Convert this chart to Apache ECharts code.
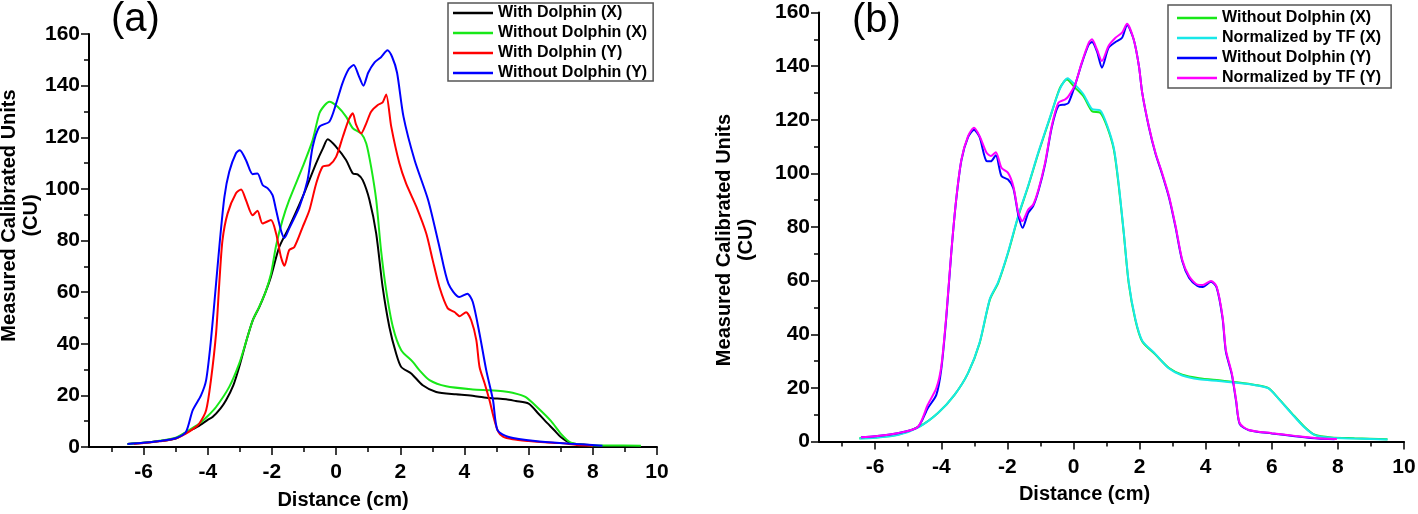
<!DOCTYPE html>
<html>
<head>
<meta charset="utf-8">
<script src="https://cdn.jsdelivr.net/npm/echarts@6/dist/echarts.min.js"></script>
<style>
  html, body { margin: 0; padding: 0; background: #fff; }
  #main { width: 1418px; height: 514px; }
</style>
</head>
<body>
<div id="main"></div>
<script>
// panel (a) profiles: [distance cm, CU]
const aWithX = [[-6.5,1.2],[-6,1.6],[-5.5,2.3],[-5,3.3],[-4.68,5.6],[-4.3,8],[-4,10.5],[-3.85,11.6],[-3.6,15],[-3.43,18.1],[-3.2,24],[-3.02,31],[-2.8,41],[-2.6,49],[-2.39,54.3],[-2.2,60],[-2.03,66],[-1.77,77.5],[-1.46,85.3],[-1.04,97],[-0.62,110],[-0.4,116],[-0.26,119.2],[0,116.3],[0.31,111.2],[0.52,106],[0.67,105.6],[0.83,103.4],[1.04,95.7],[1.25,82.7],[1.45,62],[1.66,46.5],[1.87,36.2],[2.03,31],[2.34,28.5],[2.7,23.9],[3.12,21.3],[3.74,20.4],[4.3,19.8],[4.78,19],[5.3,18.5],[5.6,17.8],[6,16.8],[6.3,13],[6.5,10.3],[6.8,6.5],[7,3.9],[7.3,1.6],[7.7,1],[7.9,0.8]]
const aWithoutX = [[-6.5,1.2],[-6,1.6],[-5.5,2.4],[-5,3.6],[-4.68,5.8],[-4.26,9.1],[-4,12],[-3.74,15.5],[-3.33,23.3],[-3.02,32.3],[-2.8,41],[-2.6,49],[-2.39,54.5],[-2.2,60],[-2.03,67],[-1.87,78],[-1.67,87.9],[-1.46,95.7],[-1.04,108.6],[-0.73,118.9],[-0.52,129.3],[-0.35,132.5],[-0.21,133.8],[0.05,131.8],[0.31,128],[0.52,123.5],[0.78,121.5],[0.94,117.6],[1.09,108.6],[1.25,95.7],[1.4,76.3],[1.56,60.8],[1.77,46.5],[2.03,37.5],[2.39,33],[2.6,29.7],[2.91,25.9],[3.43,23.5],[4.26,22.3],[4.78,22],[5.2,21.6],[5.5,21],[5.9,19.4],[6.3,15],[6.7,10],[7,5.2],[7.3,1.8],[7.8,0.8],[8.5,0.6],[9.5,0.5]]
const aWithY = [[-6.3,1.2],[-6,1.5],[-5.5,2.2],[-5,3.3],[-4.68,5.2],[-4.4,7.5],[-4.26,9.1],[-4.05,14.2],[-3.9,25.9],[-3.74,44],[-3.64,63.4],[-3.54,80.1],[-3.38,90.5],[-3.12,98.3],[-2.96,99.8],[-2.81,95.7],[-2.6,89.8],[-2.45,91.5],[-2.29,86.6],[-2.03,87.9],[-1.87,82.7],[-1.72,73.7],[-1.61,70.2],[-1.46,76.3],[-1.3,77.5],[-1.04,85.3],[-0.83,91.8],[-0.62,102.1],[-0.42,108.6],[-0.21,109.2],[0,112.4],[0.21,120.2],[0.4,127],[0.52,129.3],[0.62,125],[0.78,121.5],[0.94,125.4],[1.09,129.9],[1.3,132.5],[1.45,133.5],[1.56,136.6],[1.72,124],[1.97,110],[2.18,102.1],[2.5,93.1],[2.81,82.7],[3.01,72.4],[3.22,62],[3.48,53.7],[3.69,52.3],[3.85,50.7],[4.05,52.2],[4.21,49.1],[4.37,41.4],[4.47,31],[4.63,24.6],[4.78,18.1],[4.92,11],[5.05,6],[5.2,4],[5.5,3],[6,2.3],[6.5,1.8],[7,1.5],[7.5,0.8],[8,0.5]]
const aWithoutY = [[-6.5,1.2],[-6,1.6],[-5.5,2.3],[-5,3.4],[-4.68,5.8],[-4.47,14.2],[-4.21,20],[-4.05,25.9],[-3.9,41.4],[-3.74,63.4],[-3.62,80.1],[-3.48,96.9],[-3.33,106.6],[-3.12,113.8],[-3,115],[-2.81,111.2],[-2.6,105.7],[-2.45,106],[-2.29,101.5],[-2.13,100.2],[-1.98,97.6],[-1.87,91.8],[-1.72,84],[-1.61,81],[-1.46,84.7],[-1.14,93.1],[-0.89,103.4],[-0.73,116.3],[-0.52,124.1],[-0.21,126],[0,133],[0.2,141],[0.4,146.5],[0.55,148],[0.7,144],[0.85,140],[1,145],[1.2,149],[1.4,151],[1.6,153.7],[1.75,151],[1.9,145],[2.1,128],[2.45,111],[2.87,95.6],[3.22,77.5],[3.5,63.3],[3.84,58.1],[4.09,59.4],[4.26,56.2],[4.47,43.9],[4.68,29.7],[4.89,18.1],[5.03,6.5],[5.38,3.9],[6.2,2.3],[7.3,1.3],[8.3,0.5]]

// panel (b) profiles
const bWithoutX = [[-6.48,1.2],[-6,1.5],[-5.32,2.5],[-4.66,5.6],[-4.1,10.6],[-3.6,17.4],[-3.19,25.5],[-2.84,36.7],[-2.53,52.9],[-2.28,59.1],[-1.98,70.3],[-1.67,84],[-1.37,95.2],[-1.06,107.7],[-0.71,120.7],[-0.41,131.9],[-0.2,135],[0.05,131.9],[0.3,128.8],[0.56,123.2],[0.81,122.6],[1.01,117.6],[1.22,108.9],[1.37,95.2],[1.52,77.8],[1.67,59.1],[1.87,45.4],[2.08,37.3],[2.48,32.4],[2.89,27.4],[3.29,24.9],[3.8,23.6],[4.4,22.8],[5,22],[5.5,21.1],[5.9,19.9],[6.2,16.1],[6.6,10.6],[7,5.3],[7.3,2.5],[7.8,1.5],[8.5,1.2],[9.5,0.8]]
const bNormX = [[-6.48,1.1],[-6,1.4],[-5.32,2.4],[-4.66,5.5],[-4.1,10.6],[-3.6,17.4],[-3.19,25.5],[-2.84,36.9],[-2.53,53.2],[-2.28,59.4],[-1.98,70.6],[-1.67,84.3],[-1.37,95.5],[-1.06,108],[-0.71,121],[-0.41,131.5],[-0.18,135.5],[0.05,133],[0.3,129.5],[0.56,124],[0.81,123.5],[1.01,118.2],[1.22,109.5],[1.37,95.8],[1.52,78.2],[1.67,59.5],[1.87,45.8],[2.08,37.6],[2.48,32.6],[2.89,27.2],[3.29,24.6],[3.8,23.2],[4.4,22.6],[5,21.8],[5.5,21],[5.9,19.8],[6.2,16],[6.6,10.4],[7,5.1],[7.3,2.4],[7.8,1.4],[8.5,1.1],[9.5,0.7]]
const bWithoutY = [[-6.43,1.6],[-6,2],[-5.32,3.1],[-4.71,5.4],[-4.41,12.4],[-4.15,17.4],[-4,27],[-3.85,46],[-3.7,70],[-3.55,90],[-3.39,105],[-3.19,113.5],[-3.01,116.3],[-2.84,113.5],[-2.63,104.6],[-2.5,104.5],[-2.35,106.8],[-2.18,99],[-1.98,97.7],[-1.82,94.5],[-1.67,84.5],[-1.54,79.7],[-1.37,85.3],[-1.22,87.8],[-1.06,93.5],[-0.86,103.4],[-0.66,117],[-0.46,125.1],[-0.25,125.7],[-0.15,126.3],[0.05,133],[0.25,141],[0.46,148],[0.56,149],[0.71,145.5],[0.86,139.4],[1.06,146.8],[1.27,149],[1.47,150.6],[1.62,155.3],[1.82,150],[1.98,140],[2.08,130],[2.28,117.3],[2.48,107.4],[2.68,99.8],[2.89,91],[3.09,79.8],[3.29,67.3],[3.5,61],[3.75,58],[3.91,57.6],[4.16,59.6],[4.33,57.5],[4.51,46],[4.61,33.5],[4.79,25],[4.92,15],[5.03,6.5],[5.31,4.2],[6,3],[6.7,2],[7.4,1.1],[7.9,0.8]]
const bNormY = [[-6.43,1.6],[-6,2],[-5.32,3.1],[-4.71,5.4],[-4.41,13.7],[-4.15,19.9],[-4,28],[-3.85,46.7],[-3.7,70.3],[-3.55,90.2],[-3.39,105.2],[-3.19,113.9],[-3.01,117],[-2.84,113.9],[-2.63,107.7],[-2.5,106.5],[-2.35,107.9],[-2.18,102.1],[-1.98,100.2],[-1.82,95.2],[-1.67,85.3],[-1.55,82.2],[-1.37,86.5],[-1.22,88.4],[-1.06,94],[-0.86,103.9],[-0.66,117.6],[-0.46,126.3],[-0.25,127.6],[-0.15,128.8],[0.05,133.2],[0.25,141.3],[0.46,148.7],[0.56,150],[0.71,146.2],[0.86,141.9],[1.06,147.5],[1.27,150.6],[1.47,152.5],[1.62,155.8],[1.82,150],[1.98,140],[2.08,130],[2.28,117.6],[2.48,107.7],[2.68,100.2],[2.89,91.5],[3.09,80.3],[3.29,67.8],[3.5,61.6],[3.75,58.5],[3.91,58.4],[4.16,59.9],[4.33,57.8],[4.51,46.6],[4.61,34.2],[4.79,25.5],[4.92,15.5],[5.03,6.8],[5.31,4.3],[6,3.1],[6.7,2.1],[7.4,1.2],[7.97,0.9]]

// tick positions
const xMajorTicks = [-6, -4, -2, 0, 2, 4, 6, 8, 10]
const xMinorTicks = [-7, -5, -3, -1, 1, 3, 5, 7, 9]

const FONT = 'Arial, "Liberation Sans", sans-serif'

const chart = echarts.init(document.getElementById('main'), null, {renderer: 'canvas'})

// 主刻度x轴
function xMain(gridIndex, padRight) {
  return {
    type: 'value', gridIndex: gridIndex, position: 'bottom', min: -7.7, max: 10,
    name: 'Distance (cm)', nameLocation: 'middle', nameGap: 43, nameMoveOverlap: false,
    nameTextStyle: {fontFamily: FONT, fontSize: 20, fontWeight: 'bold', color: '#000', padding: [0, padRight, 0, 0]},
    axisLine: {show: true, onZero: false, lineStyle: {color: '#000', width: 2}},
    axisTick: {show: true, length: 8, customValues: xMajorTicks, lineStyle: {color: '#000', width: 1.5}},
    axisLabel: {show: true, margin: 15, customValues: xMajorTicks, fontFamily: FONT, fontSize: 21, fontWeight: 'bold', color: '#000'},
    splitLine: {show: false}
  }
}
// 次刻度x轴
function xMinor(gridIndex) {
  return {
    type: 'value', gridIndex: gridIndex, position: 'bottom', min: -7.7, max: 10,
    axisLine: {show: false, onZero: false},
    axisTick: {show: true, length: 5, customValues: xMinorTicks, lineStyle: {color: '#000', width: 1.5}},
    axisLabel: {show: false},
    splitLine: {show: false}
  }
}
function yAxis(gridIndex, nameGap, pad) {
  return {
    type: 'value', gridIndex: gridIndex, position: 'left', min: 0, max: 160, interval: 20,
    name: 'Measured Calibrated Units\n(CU)', nameLocation: 'middle', nameGap: nameGap, nameMoveOverlap: false,
    nameTextStyle: {fontFamily: FONT, fontSize: 20, fontWeight: 'bold', color: '#000', lineHeight: 22, padding: pad},
    axisLine: {show: true, onZero: false, lineStyle: {color: '#000', width: 2}},
    axisTick: {show: true, length: 8, lineStyle: {color: '#000', width: 1.5}},
    minorTick: {show: true, splitNumber: 2, length: 5, lineStyle: {color: '#000', width: 1.5}},
    axisLabel: {margin: 9, fontFamily: FONT, fontSize: 21, fontWeight: 'bold', color: '#000'},
    splitLine: {show: false}
  }
}
function line(name, data, color, xi, yi) {
  return {
    name: name, type: 'line', data: data, xAxisIndex: xi, yAxisIndex: yi,
    symbol: 'none', smooth: 0.25, animation: false,
    lineStyle: {color: color, width: 2}, itemStyle: {color: color}
  }
}
function legend(names, left, top, padding) {
  return {
    data: names, left: left, top: top, orient: 'vertical',
    icon: 'rect', itemWidth: 40, itemHeight: 2.5, itemGap: 4, padding: padding,
    backgroundColor: '#fff', borderColor: '#555', borderWidth: 1.5,
    selectedMode: false,
    textStyle: {fontFamily: FONT, fontSize: 16, fontWeight: 'bold', color: '#000', lineHeight: 16}
  }
}

chart.setOption({
  backgroundColor: '#fff',
  animation: false,
  grid: [
    {left: 89, top: 34, width: 568, height: 413, outerBoundsMode: 'none'},
    {left: 819, top: 12.5, width: 585, height: 429, outerBoundsMode: 'none'}
  ],
  xAxis: [xMain(0, 60), xMain(1, 54), xMinor(0), xMinor(1)],
  yAxis: [yAxis(0, 47, [0, 0, 0, 50]), yAxis(1, 62, [0, 26, 0, 0])],
  legend: [
    legend(['With Dolphin (X)', 'Without Dolphin (X)', 'With Dolphin (Y)', 'Without Dolphin (Y)'], 448, 3, [2, 6, 0, 5]),
    legend(['Without Dolphin (X)', 'Normalized by TF (X)', 'Without Dolphin (Y)', 'Normalized by TF (Y)'], 1168, 5, [5, 10, 2, 9])
  ],
  graphic: [
    {type: 'text', left: 111, top: 0, style: {text: '(a)', font: '40px ' + FONT, fill: '#000'}},
    {type: 'text', left: 852, top: 1, style: {text: '(b)', font: '40px ' + FONT, fill: '#000'}}
  ],
  series: [
    line('With Dolphin (X)', aWithX, '#000000', 0, 0),
    line('Without Dolphin (X)', aWithoutX, '#18e818', 0, 0),
    line('With Dolphin (Y)', aWithY, '#ff0000', 0, 0),
    line('Without Dolphin (Y)', aWithoutY, '#0000ff', 0, 0),
    line('Without Dolphin (X)', bWithoutX, '#18e818', 1, 1),
    line('Normalized by TF (X)', bNormX, '#18e8e8', 1, 1),
    line('Without Dolphin (Y)', bWithoutY, '#0000ff', 1, 1),
    line('Normalized by TF (Y)', bNormY, '#ff00ff', 1, 1)
  ]
})
</script>
</body>
</html>
